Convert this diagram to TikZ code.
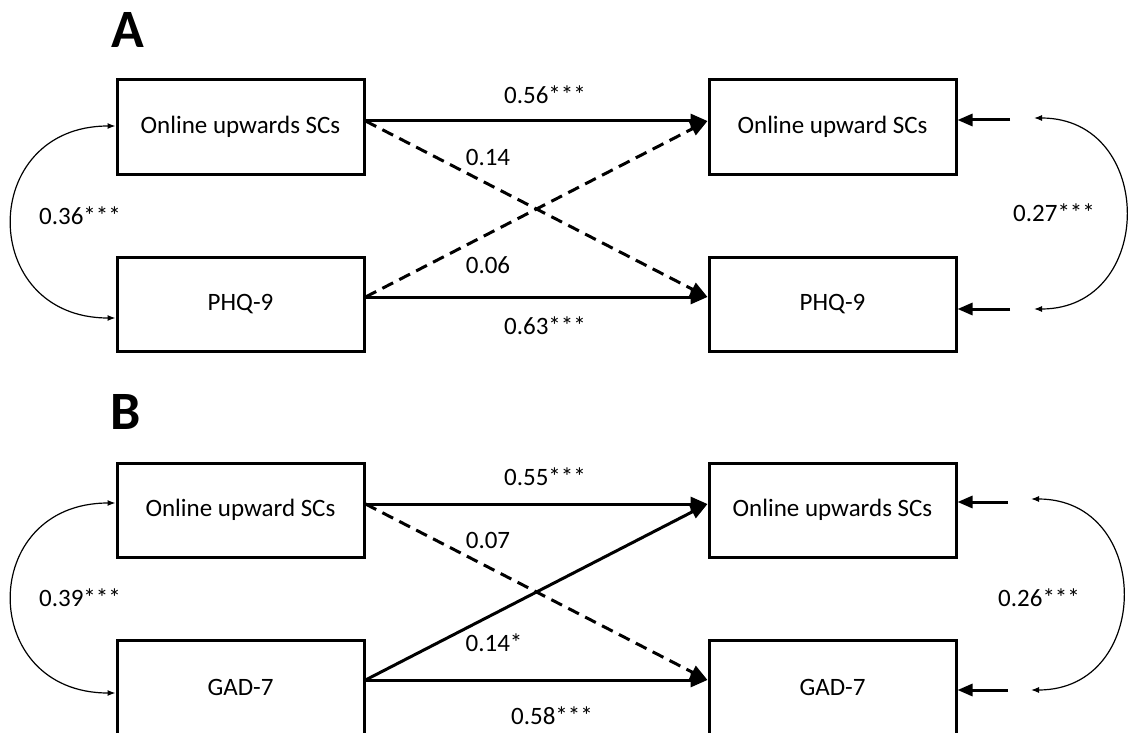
\documentclass[tikz,border=0pt]{standalone}
\usepackage{fontspec}
\setmainfont{Carlito}
\usetikzlibrary{arrows.meta}
\begin{document}
\begin{tikzpicture}[x=1pt,y=-1pt,
 box/.style={draw, line width=3pt, minimum width=247pt, minimum height=94pt, inner sep=0pt, font=\fontsize{25}{29}\selectfont},
 pathline/.style={line width=3pt, -{Triangle[length=17pt,width=14pt]}},
 dpath/.style={pathline, dash pattern=on 12pt off 7pt},
 err/.style={line width=3pt, -{Triangle[length=15pt,width=12pt]}},
 cov/.style={line width=1.2pt, {Latex[length=8pt,width=6pt]}-{Latex[length=8pt,width=6pt]}},
 lbl/.style={font=\fontsize{25}{29}\selectfont, inner sep=0pt},
 panel/.style={font=\fontsize{54}{60}\selectfont\bfseries, inner sep=0pt}]
\useasboundingbox (0,0) rectangle (1129,733);
\clip (0,0) rectangle (1129,733);

% ---------- Panel A ----------
\node[panel] (pA) at (128,30) {A};
\node[box] (a1) at (240.5,127) {Online upwards SCs};
\node[box] (a2) at (240.5,304) {PHQ-9};
\node[box] (a3) at (832.5,127) {Online upward SCs};
\node[box] (a4) at (832.5,304) {PHQ-9};

\draw[pathline] ([yshift=6pt]a1.east) -- ([yshift=6pt]a3.west);
\draw[pathline] ([yshift=7pt]a2.east) -- ([yshift=7pt]a4.west);
\draw[dpath] ([yshift=6pt]a1.east) -- ([yshift=7pt]a4.west);
\draw[dpath] ([yshift=7pt]a2.east) -- ([yshift=6pt]a3.west);

\node[lbl] (lA1) at (545,95) {0.56***};
\node[lbl] (lA2) at (488,157) {0.14};
\node[lbl] (lA3) at (488,265) {0.06};
\node[lbl] (lA4) at (545,326) {0.63***};

\draw[cov] ([yshift=1pt]a1.west) .. controls +(-138,0) and +(-138,0) .. ([yshift=-14pt]a2.west);
\node[lbl] (lA5) at (80,216) {0.36***};

\coordinate (eA1) at (1010,120);
\coordinate (eA2) at (1010,309);
\draw[err] (eA1) -- ([yshift=7pt]a3.east);
\draw[err] (eA2) -- ([yshift=-5pt]a4.east);
\coordinate (cA1) at (1034,118);
\coordinate (cA2) at (1034,309);
\draw[cov] (cA1) .. controls +(122,0) and +(122,0) .. (cA2);
\node[lbl] (lA6) at (1054,213) {0.27***};

% ---------- Panel B ----------
\node[panel] (pB) at (126,412) {B};
\node[box] (b1) at (240.5,510) {Online upward SCs};
\node[box] (b2) at (240.5,687) {GAD-7};
\node[box] (b3) at (832.5,510) {Online upwards SCs};
\node[box] (b4) at (832.5,687) {GAD-7};

\draw[pathline] ([yshift=6pt]b1.east) -- ([yshift=6pt]b3.west);
\draw[pathline] ([yshift=7pt]b2.east) -- ([yshift=7pt]b4.west);
\draw[dpath] ([yshift=6pt]b1.east) -- ([yshift=7pt]b4.west);
\draw[pathline] ([yshift=7pt]b2.east) -- ([yshift=6pt]b3.west);

\node[lbl] (lB1) at (545,477) {0.55***};
\node[lbl] (lB2) at (488,540) {0.07};
\node[lbl] (lB3) at (494,643) {0.14*};
\node[lbl] (lB4) at (552,716) {0.58***};

\draw[cov] ([yshift=7pt]b1.west) .. controls +(-138,0) and +(-138,0) .. ([yshift=-6pt]b2.west);
\node[lbl] (lB5) at (80,598) {0.39***};

\coordinate (eB1) at (1008,502);
\coordinate (eB2) at (1008,690);
\draw[err] (eB1) -- ([yshift=8pt]b3.east);
\draw[err] (eB2) -- ([yshift=-3pt]b4.east);
\coordinate (cB1) at (1031,499);
\coordinate (cB2) at (1031,690);
\draw[cov] (cB1) .. controls +(122,0) and +(122,0) .. (cB2);
\node[lbl] (lB6) at (1039,598) {0.26***};
\end{tikzpicture}
\end{document}
